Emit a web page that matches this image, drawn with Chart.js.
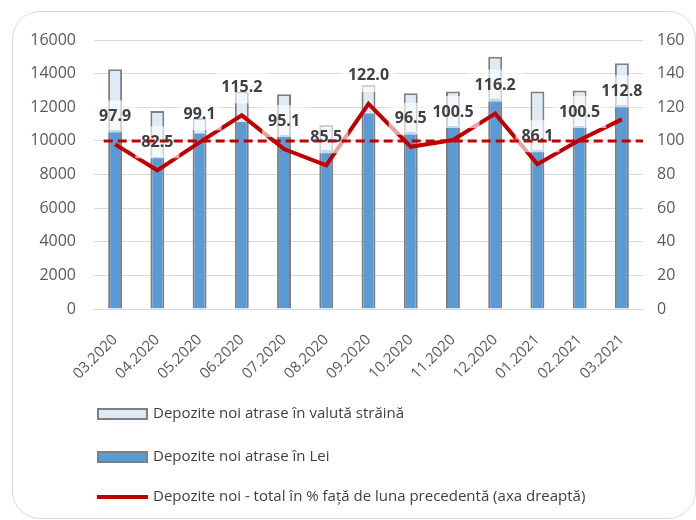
<!DOCTYPE html>
<html>
<head>
<meta charset="utf-8">
<script src="https://cdn.jsdelivr.net/npm/chart.js@4.4.1/dist/chart.umd.min.js"></script>
<style>
  html, body { margin: 0; padding: 0; background: #fff; }
  #wrap { position: relative; width: 696px; height: 520px; overflow: hidden; }
  #frame { position: absolute; left: 12px; top: 11px; width: 684px; height: 508px; box-sizing: border-box; border: 1.5px solid #d9d9d9; border-radius: 28px; }
  #depoziteChart { position: absolute; left: 0; top: 0; }
</style>
</head>
<body>
<div id="wrap">
  <div id="frame"></div>
  <canvas id="depoziteChart" width="696" height="520"></canvas>
</div>
<script>
// date
const luni = ["03.2020", "04.2020", "05.2020", "06.2020", "07.2020", "08.2020", "09.2020",
  "10.2020", "11.2020", "12.2020", "01.2021", "02.2021", "03.2021"];
const depoziteLei = [10650, 9060, 10450, 11140, 10350, 9460, 11640, 10550, 10900, 12530, 9460, 10900, 12140];
const depoziteValuta = [3610, 2720, 910, 1790, 2420, 1490, 1690, 2280, 2030, 2480, 3470, 2090, 2480];
const totalProcent = [97.9, 82.5, 99.1, 115.2, 95.1, 85.5, 122.0, 96.5, 100.5, 116.2, 86.1, 100.5, 112.8];
// linia punctata de referinta (100%): capete in unitati de categorie pe axa x
const referintaX = [-0.27, 12.5];
const referintaY = [100, 100];

const FONT = "'Open Sans', sans-serif";
Chart.defaults.font.family = FONT;

// etichete deasupra liniei, cu fundal alb semitransparent + linia de 100%
const eticheteLinie = {
  id: "eticheteLinie",
  afterDatasetDraw(chart, args) {
    if (args.index !== 2) return;
    const ctx = chart.ctx;
    const meta = chart.getDatasetMeta(2);
    ctx.save();
    ctx.font = "bold 16px " + FONT;
    meta.data.forEach(function (pt, i) {
      const txt = totalProcent[i].toFixed(1);
      const w = ctx.measureText(txt).width + 12;
      ctx.fillStyle = "rgba(255,255,255,0.63)";
      ctx.fillRect(pt.x - w / 2, pt.y - 28 - 16, w, 32);
    });
    ctx.restore();
  },
  afterDatasetsDraw(chart) {
    const ctx = chart.ctx;
    const xs = chart.scales.x;
    const ys = chart.scales.y1;
    // linia punctata la 100%
    ctx.save();
    ctx.strokeStyle = "#c00000";
    ctx.lineWidth = 3;
    ctx.setLineDash([9, 5]);
    ctx.beginPath();
    referintaX.forEach(function (v, i) {
      const px = xs.getPixelForValue(v);
      const py = ys.getPixelForValue(referintaY[i]);
      if (i === 0) ctx.moveTo(px, py); else ctx.lineTo(px, py);
    });
    ctx.stroke();
    ctx.restore();

    const meta = chart.getDatasetMeta(2);
    ctx.save();
    ctx.font = "bold 16px " + FONT;
    ctx.fillStyle = "#404040";
    ctx.textAlign = "center";
    ctx.textBaseline = "middle";
    meta.data.forEach(function (pt, i) {
      ctx.fillText(totalProcent[i].toFixed(1), pt.x, pt.y - 28);
    });
    ctx.restore();
  }
};

// legenda verticala, un rand pe serie
const legendaVerticala = {
  id: "legendaVerticala",
  afterDraw(chart) {
    const ctx = chart.ctx;
    const ds = chart.data.datasets;
    const randuri = [414, 457, 497];
    ctx.save();
    ctx.font = "15px " + FONT;
    ctx.textBaseline = "middle";
    [0, 1, 2].forEach(function (idx, r) {
      const d = ds[idx];
      const y = randuri[r];
      if (d.type === "line") {
        ctx.strokeStyle = d.borderColor;
        ctx.lineWidth = 4;
        ctx.beginPath();
        ctx.moveTo(97, y);
        ctx.lineTo(148, y);
        ctx.stroke();
      } else {
        ctx.fillStyle = d.backgroundColor;
        ctx.fillRect(97, y - 5, 51, 10);
        ctx.strokeStyle = "#7f7f7f";
        ctx.lineWidth = 2;
        ctx.strokeRect(98, y - 5, 49, 10);
      }
      ctx.fillStyle = "#404040";
      ctx.fillText(d.label, 153, y);
    });
    ctx.restore();
  }
};

const data = {
  labels: luni,
  datasets: [
    {
      type: "bar",
      label: "Depozite noi atrase în valută străină",
      data: depoziteValuta,
      backgroundColor: "#deebf7",
      borderColor: "#7f7f7f",
      borderWidth: { top: 2, left: 2, right: 2, bottom: 0 },
      borderSkipped: false,
      barPercentage: 0.33,
      categoryPercentage: 1,
      grouped: false,
      stack: "depozite",
      yAxisID: "y",
      order: 3
    },
    {
      type: "bar",
      label: "Depozite noi atrase în Lei",
      data: depoziteLei,
      backgroundColor: "#5b9bd5",
      borderColor: "#7f7f7f",
      borderWidth: { top: 0, left: 2, right: 2, bottom: 0 },
      borderSkipped: false,
      barPercentage: 0.33,
      categoryPercentage: 1,
      grouped: false,
      stack: "depozite",
      yAxisID: "y",
      order: 2
    },
    {
      type: "line",
      label: "Depozite noi - total în % față de luna precedentă (axa dreaptă)",
      data: totalProcent,
      borderColor: "#c00000",
      borderWidth: 4,
      pointRadius: 0,
      tension: 0,
      yAxisID: "y1",
      order: 1
    }
  ]
};

const config = {
  type: "bar",
  data: data,
  plugins: [eticheteLinie, legendaVerticala],
  options: {
    responsive: false,
    devicePixelRatio: 1,
    animation: false,
    layout: { padding: { top: 40, left: 0, right: 0, bottom: 0 } },
    plugins: {
      legend: { display: false },
      tooltip: { enabled: false }
    },
    scales: {
      x: {
        stacked: true,
        grid: { display: false },
        border: { color: "#d9d9d9", width: 1 },
        ticks: {
          color: "#595959",
          font: { size: 15 },
          minRotation: 45,
          maxRotation: 45,
          autoSkip: false,
          padding: 14
        },
        afterFit: function (s) { s.height = 211; }
      },
      y: {
        stacked: true,
        position: "left",
        min: 0,
        max: 16000,
        ticks: {
          stepSize: 2000,
          color: "#595959",
          font: { size: 16 },
          padding: 18,
          callback: function (v) { return String(v); }
        },
        grid: { color: "#d9d9d9", drawTicks: false },
        border: { display: false },
        afterFit: function (s) { s.width = 94; }
      },
      y1: {
        position: "right",
        min: 0,
        max: 160,
        ticks: { stepSize: 20, color: "#595959", font: { size: 16 }, padding: 14 },
        grid: { display: false, drawTicks: false },
        border: { display: false },
        afterFit: function (s) { s.width = 53; }
      }
    }
  }
};

const ctx = document.getElementById("depoziteChart").getContext("2d");
const graficDepozite = new Chart(ctx, config);
</script>
</body>
</html>
